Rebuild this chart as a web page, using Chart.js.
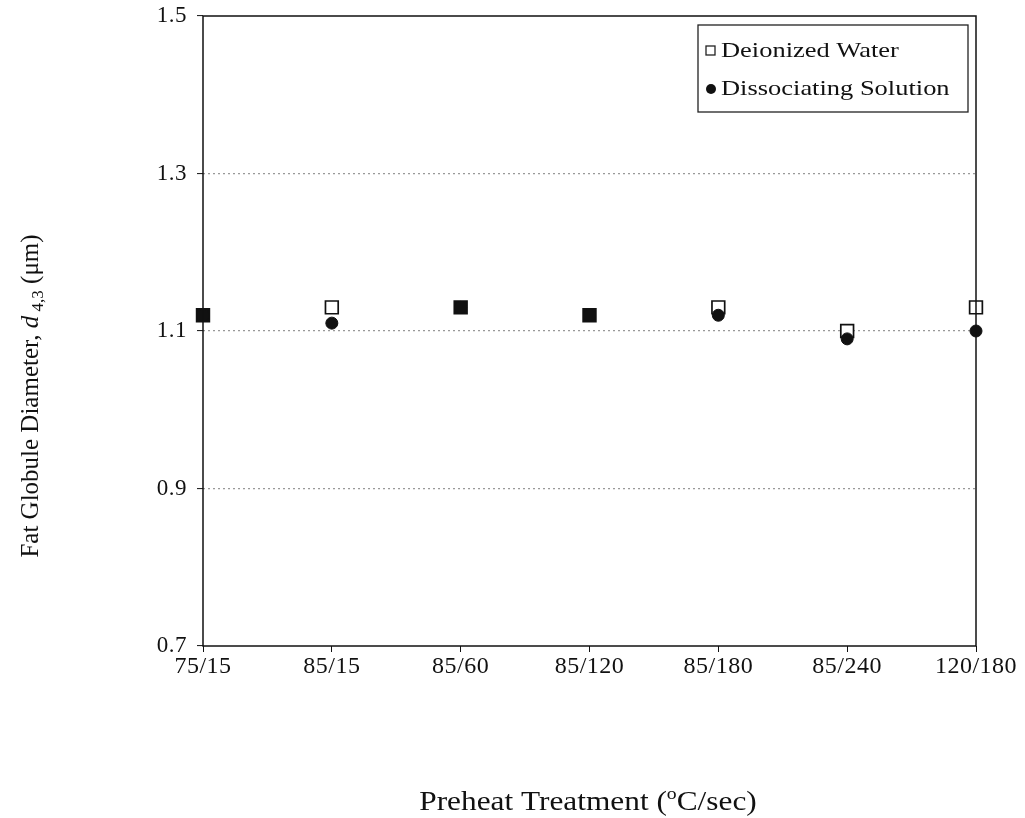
<!DOCTYPE html>
<html>
<head>
<meta charset="utf-8">
<title>Fat globule diameter vs preheat treatment</title>
<script src="https://cdn.jsdelivr.net/npm/chart.js@4.4.1/dist/chart.umd.min.js"></script>
<style>
    html, body { margin: 0; padding: 0; background: #fff; }
    #wrap { width: 1025px; height: 818px; }
</style>
</head>
<body>
<div id="wrap"><canvas id="globuleChart" width="1025" height="818"></canvas></div>
<script>
const treatments = ["75/15", "85/15", "85/60", "85/120", "85/180", "85/240", "120/180"];
const deionizedWater = [1.12, 1.13, 1.13, 1.12, 1.13, 1.10, 1.13];
const dissociatingSolution = [1.12, 1.11, 1.13, 1.12, 1.12, 1.09, 1.10];
const yTicks = [0.7, 0.9, 1.1, 1.3, 1.5];

const SERIF = "'Liberation Serif', 'DejaVu Serif', serif";
const INK = "#111";

// where both solutions give the same value the two markers merge into a solid square
const squareFill = c => deionizedWater[c.dataIndex] === dissociatingSolution[c.dataIndex] ? INK : "#fff";

// slightly wider lettering for the tick labels
const spacing = {
    id: "spacing",
    beforeDraw(chart) { chart.ctx.letterSpacing = "0.5px"; },
    afterDraw(chart) { chart.ctx.letterSpacing = "0px"; }
};

// plot frame
const frame = {
    id: "frame",
    afterDatasetsDraw(chart) {
        const { ctx, chartArea: a } = chart;
        ctx.save();
        ctx.strokeStyle = INK;
        ctx.lineWidth = 1.5;
        ctx.strokeRect(a.left, a.top, a.right - a.left, a.bottom - a.top);
        ctx.restore();
    }
};

// draws text runs (font / offset per run) centred on cx, stretched sideways by sx
function drawRuns(ctx, runs, cx, cy, rot, sx) {
    let total = 0;
    runs.forEach(r => { ctx.font = r.font; r.w = ctx.measureText(r.text).width; total += r.w; });
    ctx.save();
    ctx.translate(cx, cy);
    ctx.rotate(rot);
    ctx.scale(sx, 1);
    let x = -total / 2;
    runs.forEach(r => {
        ctx.font = r.font;
        ctx.fillText(r.text, x, r.dy || 0);
        x += r.w;
    });
    ctx.restore();
}

// legend box in the top right corner of the plot
const boxLegend = {
    id: "boxLegend",
    afterDraw(chart) {
        const { ctx, chartArea: a } = chart;
        const x0 = a.right - 278, y0 = a.top + 9, w = 270, h = 87;
        ctx.save();
        ctx.letterSpacing = "0px";
        ctx.fillStyle = "#fff";
        ctx.fillRect(x0, y0, w, h);
        ctx.strokeStyle = "#222";
        ctx.lineWidth = 1.3;
        ctx.strokeRect(x0, y0, w, h);

        ctx.fillStyle = INK;
        ctx.textBaseline = "middle";

        // open square
        ctx.lineWidth = 1.3;
        ctx.strokeRect(x0 + 8, y0 + 21, 9, 9);
        ctx.save();
        ctx.translate(x0 + 23, y0 + 26);
        ctx.scale(1.26, 1);
        ctx.font = "21px " + SERIF;
        ctx.fillText("Deionized Water", 0, 0);
        ctx.restore();

        // filled circle
        ctx.beginPath();
        ctx.arc(x0 + 13, y0 + 64, 5, 0, Math.PI * 2);
        ctx.fill();
        ctx.save();
        ctx.translate(x0 + 23, y0 + 64);
        ctx.scale(1.26, 1);
        ctx.font = "21px " + SERIF;
        ctx.fillText("Dissociating Solution", 0, 0);
        ctx.restore();
        ctx.restore();
    }
};

// axis titles with italic d, subscript 4,3 and superscript degree
const axisTitles = {
    id: "axisTitles",
    afterDraw(chart) {
        const { ctx } = chart;
        ctx.save();
        ctx.letterSpacing = "0px";
        ctx.fillStyle = INK;
        ctx.textBaseline = "alphabetic";

        drawRuns(ctx, [
            { text: "Fat Globule Diameter, ", font: "25px " + SERIF },
            { text: "d", font: "italic 25px " + SERIF },
            { text: " 4,3", font: "17px " + SERIF, dy: 5 },
            { text: " (\u03bcm)", font: "25px " + SERIF }
        ], 38, 396, -Math.PI / 2, 1);

        drawRuns(ctx, [
            { text: "Preheat Treatment (", font: "27px " + SERIF },
            { text: "o", font: "17px " + SERIF, dy: -11 },
            { text: "C/sec)", font: "27px " + SERIF }
        ], 588, 810, 0, 1.16);

        ctx.restore();
    }
};

new Chart(document.getElementById("globuleChart"), {
    type: "line",
    data: {
        labels: treatments,
        datasets: [
            {
                label: "Deionized Water",
                data: deionizedWater,
                showLine: false,
                pointStyle: "rect",
                pointRadius: 9,
                pointBackgroundColor: squareFill,
                pointBorderColor: INK,
                pointBorderWidth: 1.7,
                order: 1,
                clip: false
            },
            {
                label: "Dissociating Solution",
                data: dissociatingSolution,
                showLine: false,
                pointStyle: "circle",
                pointRadius: 6,
                pointBackgroundColor: INK,
                pointBorderColor: INK,
                pointBorderWidth: 1,
                order: 0,
                clip: false
            }
        ]
    },
    options: {
        responsive: false,
        animation: false,
        layout: { padding: { left: 0, right: 49, top: 16, bottom: 0 } },
        plugins: {
            legend: { display: false },
            tooltip: { enabled: false }
        },
        scales: {
            x: {
                offset: false,
                afterFit: s => { s.height = 172; s.paddingLeft = 0; s.paddingRight = 0; },
                grid: {
                    drawOnChartArea: false,
                    offset: false,
                    tickLength: 6,
                    tickColor: INK,
                    tickWidth: 1
                },
                border: { display: false },
                ticks: {
                    padding: 0,
                    color: INK,
                    maxRotation: 0,
                    autoSkip: false,
                    font: { family: SERIF, size: 24 }
                }
            },
            y: {
                min: 0.7,
                max: 1.5,
                afterFit: s => { s.width = 203; s.paddingTop = 0; s.paddingBottom = 0; },
                afterBuildTicks: s => { s.ticks = yTicks.map(v => ({ value: v })); },
                grid: {
                    color: c => (c.tick && (c.tick.value === 0.7 || c.tick.value === 1.5)) ? "rgba(0,0,0,0)" : "#999",
                    lineWidth: 1.2,
                    borderDash: [2, 3],
                    tickLength: 6,
                    tickColor: INK,
                    tickWidth: 1,
                    tickBorderDash: []
                },
                border: { display: false, dash: [2, 3] },
                ticks: {
                    padding: 10,
                    color: INK,
                    font: { family: SERIF, size: 23 },
                    callback: v => v.toFixed(1)
                }
            }
        }
    },
    plugins: [spacing, frame, boxLegend, axisTitles]
});
</script>
</body>
</html>
